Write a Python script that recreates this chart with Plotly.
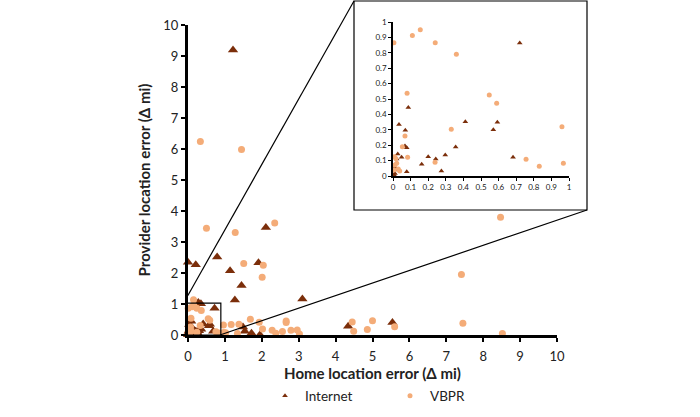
import plotly.graph_objects as go

# ---- data ----
internet_x = [1.22, 2.11, 0.00, 0.21, 0.79, 1.14, 1.91, 1.45, 1.27, 3.10, 0.28, 0.35,
              1.49, 1.54, 1.72, 1.95, 4.34, 5.54,
              0.72, 0.087, 0.411, 0.593, 0.034, 0.570, 0.070, 0.068, 0.078, 0.356,
              0.027, 0.049, 0.021, 0.200, 0.243, 0.297, 0.163, 0.682, 0.078, 0.275,
              0.011, 0.017, 0.011, 0.005]
internet_y = [9.19, 3.47, 2.35, 2.27, 2.52, 2.07, 2.33, 1.60, 1.13, 1.16, 1.05, 1.01,
              0.26, 0.12, 0.06, 0.01, 0.28, 0.40,
              0.864, 0.444, 0.353, 0.349, 0.335, 0.300, 0.297, 0.195, 0.184, 0.188,
              0.143, 0.121, 0.110, 0.125, 0.110, 0.136, 0.076, 0.121, 0.028, 0.032,
              0.056, 0.039, 0.017, 0.008]

vbpr_x = [0.335, 1.45, 0.50, 1.28, 2.35, 1.51, 2.04, 2.01, 0.15, 1.69, 1.93, 1.17,
          1.38, 1.02, 2.02, 2.28, 2.38, 2.56, 2.66, 2.66, 2.79, 2.96, 3.02, 4.45,
          4.49, 4.86, 5.00, 5.60, 7.45, 8.47, 7.41, 8.52, 1.34,
          0.005, 0.11, 0.155, 0.24, 0.36, 0.08, 0.547, 0.589, 0.331, 0.96, 0.068,
          0.053, 0.083, 0.008, 0.016, 0.756, 0.831, 0.968, 0.239, 0.021, 0.011,
          0.030, 0.006, 0.038]
vbpr_y = [6.24, 5.98, 3.44, 3.31, 3.61, 2.31, 2.25, 1.86, 1.14, 0.51, 0.41, 0.34,
          0.35, 0.07, 0.19, 0.15, 0.06, 0.11, 0.45, 0.40, 0.15, 0.16, 0.03, 0.42,
          0.12, 0.18, 0.46, 0.27, 0.38, 3.80, 1.95, 0.05, 0.05,
          0.865, 0.913, 0.950, 0.866, 0.790, 0.537, 0.526, 0.472, 0.303, 0.320, 0.260,
          0.190, 0.121, 0.125, 0.113, 0.108, 0.063, 0.082, 0.089, 0.082, 0.071,
          0.045, 0.039, 0.032]

main_ticks = list(range(0, 11))
inset_ticks = [i / 10 for i in range(0, 11)]
inset_labels = ["0", "0.1", "0.2", "0.3", "0.4", "0.5", "0.6", "0.7", "0.8", "0.9", "1"]

C_INT = "#7B2E0A"
C_VB = "#F4AC78"
FONT = "Lato, 'Open Sans', sans-serif"

fig = go.Figure()

# main traces
fig.add_trace(go.Scatter(x=internet_x, y=internet_y, mode="markers", name="Internet",
                         marker=dict(symbol="triangle-up", size=9, color=C_INT),
                         showlegend=False, cliponaxis=False, xaxis="x", yaxis="y"))
fig.add_trace(go.Scatter(x=vbpr_x, y=vbpr_y, mode="markers", name="VBPR",
                         marker=dict(symbol="circle", size=7, color=C_VB),
                         showlegend=False, cliponaxis=False, xaxis="x", yaxis="y"))
# inset traces (also carry legend)
fig.add_trace(go.Scatter(x=internet_x, y=internet_y, mode="markers", name="Internet",
                         marker=dict(symbol="triangle-up", size=5, color=C_INT),
                         showlegend=True, cliponaxis=True, xaxis="x2", yaxis="y2"))
fig.add_trace(go.Scatter(x=vbpr_x, y=vbpr_y, mode="markers", name="VBPR",
                         marker=dict(symbol="circle", size=5, color=C_VB),
                         showlegend=True, cliponaxis=True, xaxis="x2", yaxis="y2"))

W, H = 700, 417
L, R, T, B = 188, 113, 20, 82
PW, PH = W - L - R, H - T - B

def px(xp):
    return (xp - L) / PW

def py(yp):
    return (H - B - yp) / PH

fig.update_layout(
    width=W, height=H,
    margin=dict(l=L, r=R, t=T, b=B, autoexpand=False),
    paper_bgcolor="white", plot_bgcolor="white",
    font=dict(family=FONT, color="#222222"),
    xaxis=dict(domain=[0, px(557)], range=[0, 10], tickvals=main_ticks,
               showgrid=False, zeroline=False, showline=True, linecolor="black",
               linewidth=3, ticks="outside", ticklen=4, tickwidth=2, tickcolor="black",
               ticklabelstandoff=3,
               tickfont=dict(size=13, family=FONT, color="#222222"),
               title=dict(text="<b>Home location error (Δ mi)</b>",
                          font=dict(size=15, family=FONT, color="#222222"), standoff=6),
               anchor="y", automargin=False),
    yaxis=dict(domain=[0, py(25)], range=[0, 10], tickvals=main_ticks,
               showgrid=False, zeroline=False, showline=True, linecolor="black",
               linewidth=3, ticks="outside", ticklen=4, tickwidth=2, tickcolor="black",
               tickfont=dict(size=13, family=FONT, color="#222222"),
               title=dict(text="<b>Provider location error (Δ mi)</b>",
                          font=dict(size=15, family=FONT, color="#222222"), standoff=10),
               anchor="x", automargin=False),
    xaxis2=dict(domain=[px(393), px(569)], range=[0, 1], tickvals=inset_ticks,
                ticktext=inset_labels, showgrid=False, zeroline=False, showline=True,
                linecolor="black", linewidth=1.5, ticks="outside", ticklen=3,
                tickwidth=1, tickcolor="black", automargin=False,
                tickfont=dict(size=8, family=FONT, color="#222222"), anchor="y2"),
    yaxis2=dict(domain=[py(176), py(22)], range=[0, 1], tickvals=inset_ticks,
                ticktext=inset_labels, showgrid=False, zeroline=False, showline=True,
                linecolor="black", linewidth=1.5, ticks="outside", ticklen=3,
                tickwidth=1, tickcolor="black", automargin=False,
                tickfont=dict(size=8, family=FONT, color="#222222"), anchor="x2"),
    legend=dict(orientation="h", x=px(265), y=py(396), xanchor="left", yanchor="middle",
                font=dict(size=13.5, family=FONT, color="#222222"),
                entrywidth=80, entrywidthmode="pixels", itemwidth=30,
                bgcolor="rgba(0,0,0,0)"),
    shapes=[
        # inset frame
        dict(type="rect", xref="paper", yref="paper", x0=px(354), x1=px(587),
             y0=py(210), y1=py(1), line=dict(color="black", width=1.2),
             fillcolor="rgba(0,0,0,0)", layer="below"),
        # zoom rectangle on main axes
        dict(type="rect", xref="x", yref="y", x0=-0.16, x1=0.89, y0=0, y1=1.03,
             line=dict(color="black", width=1.2), layer="above"),
        # connector lines
        dict(type="line", xref="paper", yref="paper", x0=px(187), y0=py(297),
             x1=px(354), y1=py(1), line=dict(color="black", width=1.2)),
        dict(type="line", xref="paper", yref="paper", x0=px(220), y0=py(335),
             x1=px(587), y1=py(210), line=dict(color="black", width=1.2)),
    ],
)

fig.write_html("out.html", config={"displayModeBar": False},
               post_script="document.body.style.margin='0px';document.body.style.overflow='hidden';")
